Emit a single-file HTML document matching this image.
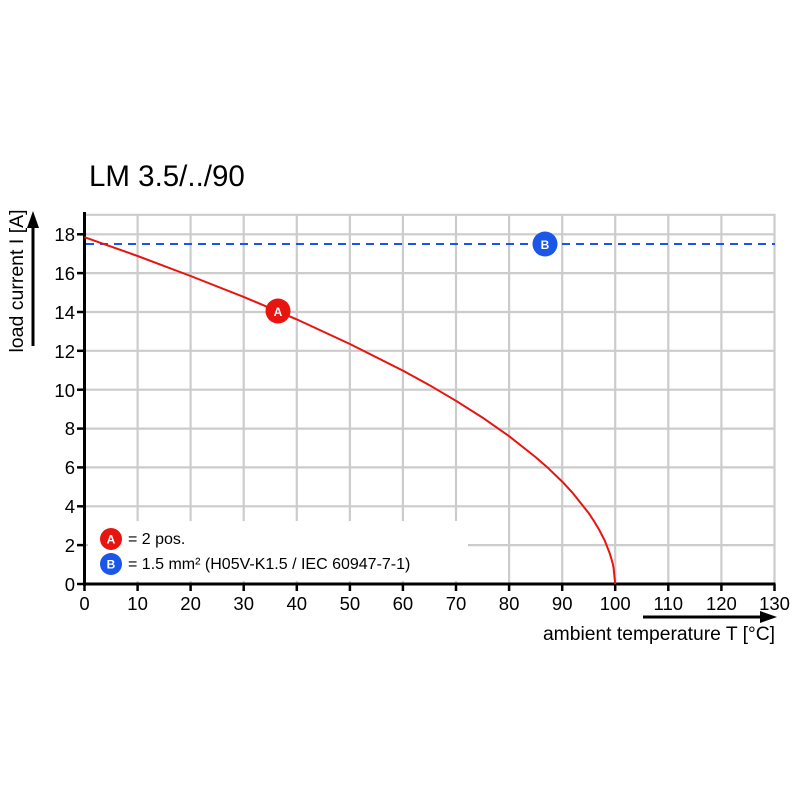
<!DOCTYPE html>
<html><head><meta charset="utf-8"><style>
html,body{margin:0;padding:0;background:#fff;}
svg{display:block;font-family:"Liberation Sans",Arial,sans-serif;}
</style></head><body>
<svg width="800" height="800" viewBox="0 0 800 800" xmlns="http://www.w3.org/2000/svg">
<rect width="800" height="800" fill="#fff"/>
<text x="89" y="186" font-size="29.5" fill="#000">LM 3.5/../90</text>
<g stroke="#cccccc" stroke-width="2.2" fill="none">
<line x1="137.6" y1="214" x2="137.6" y2="584"/>
<line x1="190.6" y1="214" x2="190.6" y2="584"/>
<line x1="243.7" y1="214" x2="243.7" y2="584"/>
<line x1="296.8" y1="214" x2="296.8" y2="584"/>
<line x1="349.9" y1="214" x2="349.9" y2="584"/>
<line x1="402.9" y1="214" x2="402.9" y2="584"/>
<line x1="456" y1="214" x2="456" y2="584"/>
<line x1="509.1" y1="214" x2="509.1" y2="584"/>
<line x1="562.2" y1="214" x2="562.2" y2="584"/>
<line x1="615.2" y1="214" x2="615.2" y2="584"/>
<line x1="668.3" y1="214" x2="668.3" y2="584"/>
<line x1="721.4" y1="214" x2="721.4" y2="584"/>
<line x1="774.5" y1="214" x2="774.5" y2="584"/>
<line x1="84" y1="214.8" x2="775.5" y2="214.8"/>
<line x1="84" y1="234.3" x2="775.5" y2="234.3"/>
<line x1="84" y1="273.1" x2="775.5" y2="273.1"/>
<line x1="84" y1="312" x2="775.5" y2="312"/>
<line x1="84" y1="350.8" x2="775.5" y2="350.8"/>
<line x1="84" y1="389.7" x2="775.5" y2="389.7"/>
<line x1="84" y1="428.6" x2="775.5" y2="428.6"/>
<line x1="84" y1="467.4" x2="775.5" y2="467.4"/>
<line x1="84" y1="506.3" x2="775.5" y2="506.3"/>
<line x1="84" y1="545.1" x2="775.5" y2="545.1"/>
</g>
<rect x="88" y="521" width="380" height="60" fill="#fff"/>
<line x1="84.5" y1="212" x2="84.5" y2="586" stroke="#000" stroke-width="3"/>
<line x1="83" y1="584" x2="775.5" y2="584" stroke="#000" stroke-width="3"/>
<g stroke="#000" stroke-width="2.5">
<line x1="77" y1="584" x2="85" y2="584"/><line x1="77" y1="545.1" x2="85" y2="545.1"/>
<line x1="77" y1="506.3" x2="85" y2="506.3"/><line x1="77" y1="467.4" x2="85" y2="467.4"/>
<line x1="77" y1="428.6" x2="85" y2="428.6"/><line x1="77" y1="389.7" x2="85" y2="389.7"/>
<line x1="77" y1="350.8" x2="85" y2="350.8"/><line x1="77" y1="312" x2="85" y2="312"/>
<line x1="77" y1="273.1" x2="85" y2="273.1"/><line x1="77" y1="234.3" x2="85" y2="234.3"/>
<line x1="84.5" y1="584" x2="84.5" y2="591"/><line x1="137.6" y1="584" x2="137.6" y2="591"/>
<line x1="190.6" y1="584" x2="190.6" y2="591"/><line x1="243.7" y1="584" x2="243.7" y2="591"/>
<line x1="296.8" y1="584" x2="296.8" y2="591"/><line x1="349.9" y1="584" x2="349.9" y2="591"/>
<line x1="402.9" y1="584" x2="402.9" y2="591"/><line x1="456" y1="584" x2="456" y2="591"/>
<line x1="509.1" y1="584" x2="509.1" y2="591"/><line x1="562.2" y1="584" x2="562.2" y2="591"/>
<line x1="615.2" y1="584" x2="615.2" y2="591"/><line x1="668.3" y1="584" x2="668.3" y2="591"/>
<line x1="721.4" y1="584" x2="721.4" y2="591"/><line x1="774.5" y1="584" x2="774.5" y2="591"/>
</g>
<g font-size="18.5" fill="#000" text-anchor="end">
<text x="75" y="591">0</text><text x="75" y="552">2</text><text x="75" y="513">4</text>
<text x="75" y="474">6</text><text x="75" y="435">8</text><text x="75" y="397">10</text>
<text x="75" y="358">12</text><text x="75" y="319">14</text><text x="75" y="280">16</text>
<text x="75" y="241">18</text>
</g>
<g font-size="18.5" fill="#000" text-anchor="middle">
<text x="84.5" y="610">0</text><text x="137.6" y="610">10</text><text x="190.6" y="610">20</text>
<text x="243.7" y="610">30</text><text x="296.8" y="610">40</text><text x="349.9" y="610">50</text>
<text x="402.9" y="610">60</text><text x="456" y="610">70</text><text x="509.1" y="610">80</text>
<text x="562.2" y="610">90</text><text x="615.2" y="610">100</text><text x="668.3" y="610">110</text>
<text x="721.4" y="610">120</text><text x="774.5" y="610">130</text>
</g>
<line x1="643" y1="617" x2="765" y2="617" stroke="#000" stroke-width="3"/>
<polygon points="777,617 760,611 760,623" fill="#000"/>
<text x="775" y="640" font-size="19.3" text-anchor="end" fill="#000">ambient temperature T [°C]</text>
<line x1="33" y1="346" x2="33" y2="224" stroke="#000" stroke-width="3"/>
<polygon points="33,211 27,228 39,228" fill="#000"/>
<text transform="translate(23,281) rotate(-90)" font-size="19.5" text-anchor="middle" fill="#000">load current I [A]</text>
<line x1="86" y1="244" x2="775" y2="244" stroke="#1a56e8" stroke-width="2" stroke-dasharray="8,6"/>
<polyline fill="none" stroke="#e8140f" stroke-width="2" stroke-linejoin="round" points="84.5,237.2 137.6,256 190.6,276 243.7,296.9 296.8,319.4 349.9,344 402.9,370.6 429.5,385.2 456,400.8 482.5,417.6 509.1,436.2 535.6,457.1 548.9,468.8 562.2,481.6 572.8,493.1 588.7,513.1 593.9,521 599.3,530 604.6,540.3 609.9,553.8 612.6,563.1 613.6,568 615.2,584"/>
<circle cx="278" cy="311" r="12.5" fill="#e8140f"/>
<text x="278" y="316" font-size="12" font-weight="bold" fill="#fff" text-anchor="middle">A</text>
<circle cx="545" cy="244" r="12.5" fill="#1a56e8"/>
<text x="545" y="249" font-size="12" font-weight="bold" fill="#fff" text-anchor="middle">B</text>
<circle cx="111" cy="539" r="11" fill="#e8140f"/>
<text x="111" y="543.5" font-size="12" font-weight="bold" fill="#fff" text-anchor="middle">A</text>
<circle cx="111" cy="564" r="11" fill="#1a56e8"/>
<text x="111" y="568.5" font-size="12" font-weight="bold" fill="#fff" text-anchor="middle">B</text>
<text x="128" y="544" font-size="16" fill="#000">= 2 pos.</text>
<text x="128" y="569" font-size="16" fill="#000">= 1.5 mm² (H05V-K1.5 / IEC 60947-7-1)</text>
</svg>
</body></html>
